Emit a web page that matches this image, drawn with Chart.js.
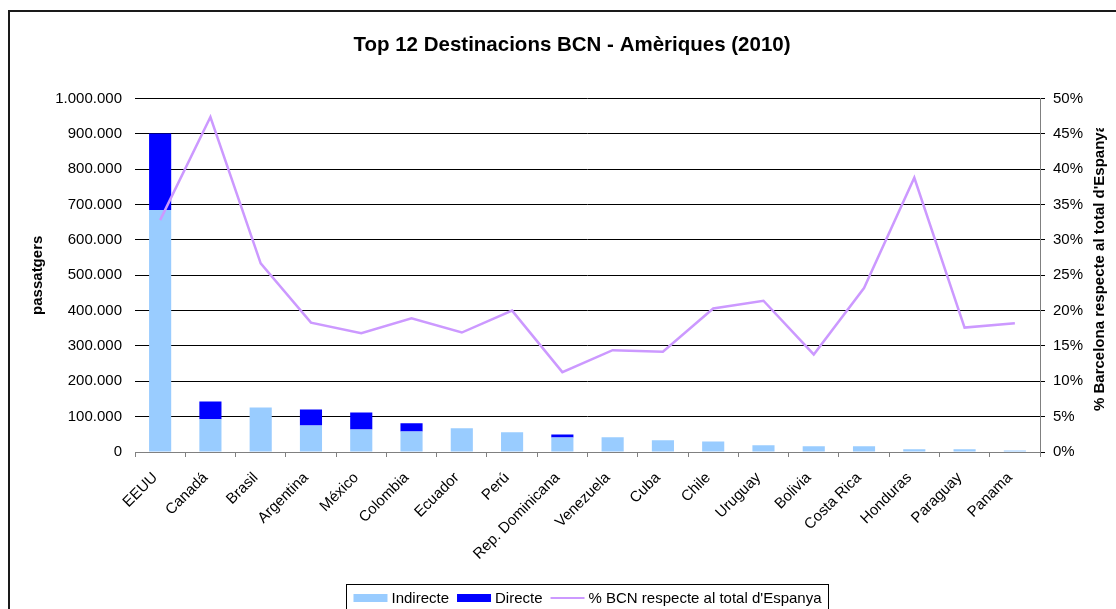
<!DOCTYPE html>
<html>
<head>
<meta charset="utf-8">
<script src="https://cdn.jsdelivr.net/npm/chart.js"></script>
<style>
  html, body { margin: 0; padding: 0; background: #fff; }
  #wrap { width: 1116px; height: 609px; overflow: hidden; position: relative; }
  #box { width: 1144px; height: 630px; position: absolute; left: 0; top: 0; }
</style>
</head>
<body>
<div id="wrap"><div id="box"><canvas id="myChart"></canvas></div></div>
<script>
// data
var paisos = ['EEUU', 'Canadá', 'Brasil', 'Argentina', 'México', 'Colombia', 'Ecuador', 'Perú',
  'Rep. Dominicana', 'Venezuela', 'Cuba', 'Chile', 'Uruguay', 'Bolivia', 'Costa Rica',
  'Honduras', 'Paraguay', 'Panama'];
var indirecte = [685000, 93000, 126000, 75000, 64000, 58000, 67000, 56000, 41000, 41500,
  33000, 30000, 19000, 16000, 16000, 7500, 7500, 4500];
var directe = [216000, 50000, 0, 45000, 48000, 23000, 0, 0, 8500, 0,
  0, 0, 0, 0, 0, 0, 0, 0];
var pctBCN = [32.8, 47.4, 26.7, 18.3, 16.8, 18.9, 16.9, 20.0, 11.3, 14.4,
  14.2, 20.3, 21.4, 13.8, 23.2, 38.8, 17.6, 18.2];

var FONT = "'Liberation Sans', Arial, sans-serif";
var titolDreta = "% Barcelona respecte al total d'Espanya";

function punts(v) {
  return String(v).replace(/\B(?=(\d{3})+(?!\d))/g, '.');
}

// white background + chart frame
var marcPlugin = {
  id: 'marc',
  beforeDraw: function(chart) {
    var ctx = chart.ctx;
    ctx.save();
    ctx.fillStyle = '#fff';
    ctx.fillRect(0, 0, chart.width, chart.height);
    ctx.strokeStyle = '#1a1a1a';
    ctx.lineWidth = 2;
    ctx.strokeRect(9, 11, chart.width + 20, chart.height + 20);
    ctx.restore();
  }
};

// right axis title, clipped at the top like in the original
var titolPlugin = {
  id: 'titolDreta',
  afterDraw: function(chart) {
    var ctx = chart.ctx;
    var s = chart.scales.y1;
    ctx.save();
    ctx.beginPath();
    ctx.rect(0, 128, chart.width, chart.height);
    ctx.clip();
    ctx.font = 'bold 15px ' + FONT;
    ctx.fillStyle = '#000';
    var w = ctx.measureText(titolDreta).width;
    ctx.translate(s.left + 60, 124 + w);
    ctx.rotate(-Math.PI / 2);
    ctx.textAlign = 'left';
    ctx.textBaseline = 'middle';
    ctx.fillText(titolDreta, 0, 0);
    ctx.restore();
  }
};

// legend with border, centred under the plot
var llegendaPlugin = {
  id: 'llegenda',
  afterDraw: function(chart) {
    var ctx = chart.ctx;
    var area = chart.chartArea;
    var items = chart.data.datasets.map(function(d) {
      return { text: d.label, color: d.type === 'line' ? d.borderColor : d.backgroundColor, line: d.type === 'line' };
    });
    ctx.save();
    ctx.font = '15px ' + FONT;
    var sw = 34, gap = 4, sep = 8, pad = 7;
    var total = pad * 2;
    items.forEach(function(it, i) {
      it.w = ctx.measureText(it.text).width;
      total += sw + gap + it.w + (i < items.length - 1 ? sep : 0);
    });
    var x = (area.left + area.right) / 2 - total / 2;
    var top = 584, cy = 598;
    ctx.strokeStyle = '#000';
    ctx.lineWidth = 1;
    ctx.strokeRect(Math.round(x) + 0.5, top + 0.5, Math.round(total), 40);
    x += pad;
    ctx.textBaseline = 'middle';
    ctx.fillStyle = '#000';
    items.forEach(function(it) {
      if (it.line) {
        ctx.strokeStyle = it.color;
        ctx.lineWidth = 2;
        ctx.beginPath();
        ctx.moveTo(x, cy);
        ctx.lineTo(x + sw, cy);
        ctx.stroke();
      } else {
        ctx.fillStyle = it.color;
        ctx.fillRect(x, cy - 4, sw, 8);
      }
      x += sw + gap;
      ctx.fillStyle = '#000';
      ctx.fillText(it.text, x, cy + 1);
      x += it.w + sep;
    });
    ctx.restore();
  }
};

Chart.defaults.font.family = FONT;
Chart.defaults.font.size = 15;
Chart.defaults.color = '#000';

const ctx = document.getElementById('myChart');

new Chart(ctx, {
  type: 'bar',
  data: {
    labels: paisos,
    datasets: [{
      label: 'Indirecte',
      data: indirecte,
      backgroundColor: '#99CCFF',
      yAxisID: 'y',
      stack: 'pax',
      order: 1
    }, {
      label: 'Directe',
      data: directe,
      backgroundColor: '#0000FF',
      yAxisID: 'y',
      stack: 'pax',
      order: 1
    }, {
      type: 'line',
      label: "% BCN respecte al total d'Espanya",
      data: pctBCN,
      borderColor: '#CC99FF',
      backgroundColor: '#CC99FF',
      borderWidth: 2.5,
      pointRadius: 0,
      tension: 0,
      yAxisID: 'y1',
      order: 0
    }]
  },
  options: {
    responsive: true,
    maintainAspectRatio: false,
    animation: false,
    datasets: {
      bar: { barPercentage: 0.44, categoryPercentage: 1.0 }
    },
    layout: { padding: { left: 0, right: 0, top: 0, bottom: 58 } },
    plugins: {
      legend: { display: false },
      tooltip: { enabled: false },
      title: {
        display: true,
        text: 'Top 12 Destinacions BCN - Amèriques (2010)',
        font: { size: 20.5, weight: 'bold' },
        color: '#000',
        padding: { top: 33, bottom: 41 }
      }
    },
    scales: {
      x: {
        stacked: true,
        grid: { drawOnChartArea: false, drawTicks: true, tickLength: 5, color: '#808080', offset: true },
        border: { display: true, color: '#808080' },
        ticks: { autoSkip: false, maxRotation: 45, minRotation: 45, padding: 12, labelOffset: -5 },
        afterFit: function(s) { s.height = 120; }
      },
      y: {
        stacked: true,
        position: 'left',
        min: 0,
        max: 1000000,
        ticks: { stepSize: 100000, padding: 13, callback: function(v) { return punts(v); } },
        grid: { color: '#000', drawTicks: false },
        border: { display: false },
        title: { display: true, text: 'passatgers', font: { size: 15, weight: 'bold' }, padding: { top: 29, bottom: 0 } },
        afterFit: function(s) { s.width = 135; }
      },
      y1: {
        position: 'right',
        min: 0,
        max: 50,
        ticks: { stepSize: 5, padding: 8, callback: function(v) { return v + '%'; } },
        grid: { drawOnChartArea: false, drawTicks: true, tickLength: 5, color: '#000' },
        border: { display: true, color: '#808080' },
        afterFit: function(s) { s.width = 104; }
      }
    }
  },
  plugins: [marcPlugin, titolPlugin, llegendaPlugin]
});
</script>
</body>
</html>
